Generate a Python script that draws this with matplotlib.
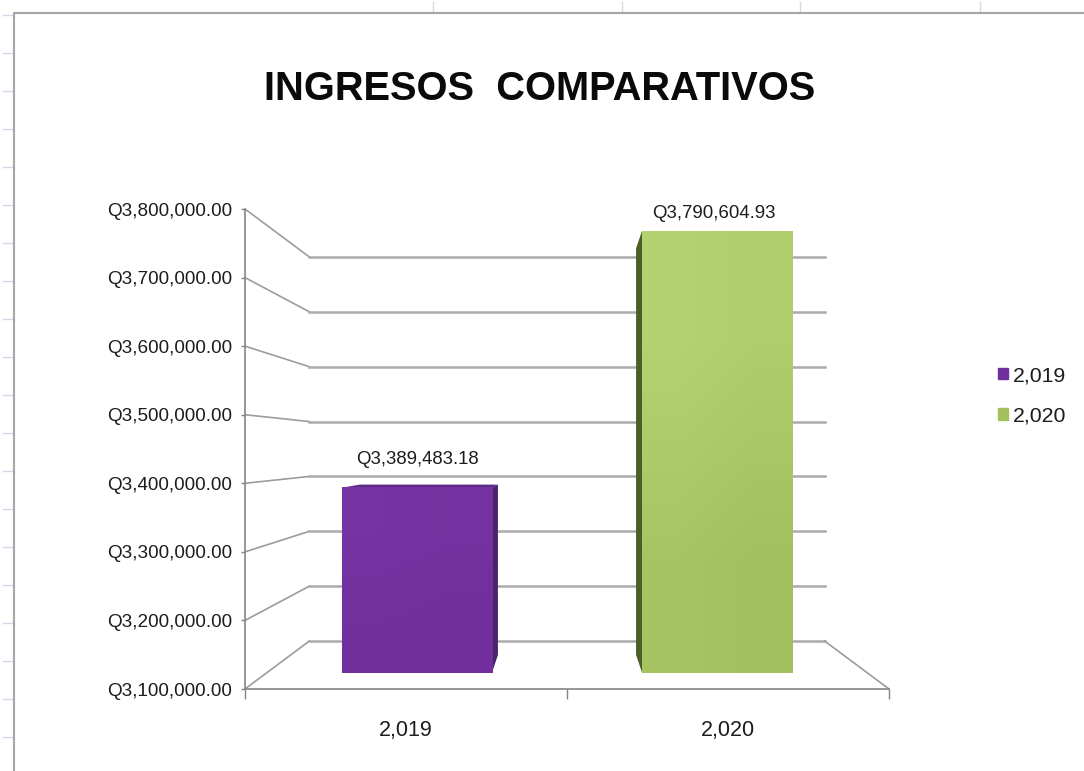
"""Recreate the INGRESOS COMPARATIVOS 3D-look column chart."""

from __future__ import annotations

import matplotlib

matplotlib.use("Agg")

import matplotlib.pyplot as plt
import numpy as np
from matplotlib.colors import LinearSegmentedColormap
from matplotlib.patches import Patch

TITLE = "INGRESOS  COMPARATIVOS"
CATEGORIES = ["2,019", "2,020"]
VALUES = [3389483.18, 3790604.93]
VALUE_LABELS = ["Q3,389,483.18", "Q3,790,604.93"]
Y_TICKS = [3100000, 3200000, 3300000, 3400000, 3500000, 3600000, 3700000, 3800000]
Y_TICK_LABELS = [
    "Q3,100,000.00",
    "Q3,200,000.00",
    "Q3,300,000.00",
    "Q3,400,000.00",
    "Q3,500,000.00",
    "Q3,600,000.00",
    "Q3,700,000.00",
    "Q3,800,000.00",
]

FACE_COLORS = [("#7633A3", "#702F9D"), ("#B4D270", "#A3C05E")]
SIDE_COLORS = ["#4A2468", "#4C5E26"]
TOP_COLORS = ["#5E2A86", "#8FAA50"]
LABEL_OFFSETS_PX = [(0, 28), (-3, 18)]

W, H = 1084, 771
BASE = Y_TICKS[0]
SHRINK = 0.2
LIFT = 70000
BAR_LEFT = 0.25
BAR_WIDTH = 0.5
BAR_NEAR = 0.34
BAR_FAR = 0.71

GRID = "#ABABAB"
SIDE_GRID = "#9C9C9C"
AXIS = "#858585"
TEXT = "#1c1c1c"
PX = 0.72  # points per pixel at dpi 100

plt.rcParams["font.family"] = ["Liberation Sans", "DejaVu Sans"]


def project(x: float, value: float, depth: float) -> tuple[float, float]:
    """Map a point of the fake 3D box on the front plane of the axes."""
    scale = 1 - SHRINK * depth
    return 1 + (x - 1) * scale, BASE + (value - BASE) * scale + LIFT * depth


def draw_sheet(fig: plt.Figure) -> None:
    """Spreadsheet frame and cell ticks behind the chart."""
    bg = fig.add_axes([0, 0, 1, 1], zorder=0)
    bg.set_xlim(0, W)
    bg.set_ylim(H, 0)
    bg.axis("off")
    for y in range(15, 740, 38):
        bg.plot([3, 14], [y, y], color="#D3D9E6", lw=1.0)
    for x in [433, 622, 800, 980]:
        bg.plot([x, x], [2, 13], color="#D3D9E6", lw=1.0)
    bg.plot([14, 14, W], [H, 13, 13], color="#A6A6A6", lw=1.5)


def draw_bar(ax: plt.Axes, i: int) -> None:
    x0 = i + BAR_LEFT
    x1 = x0 + BAR_WIDTH
    value = VALUES[i]
    side_x = x1 if i == 0 else x0

    # top, then side, then the front face over them
    top = [
        project(x0, value, BAR_NEAR),
        project(x1, value, BAR_NEAR),
        project(x1, value, BAR_FAR),
        project(x0, value, BAR_FAR),
    ]
    ax.fill(*zip(*top), color=TOP_COLORS[i], lw=0, zorder=3)
    side = [
        project(side_x, BASE, BAR_NEAR),
        project(side_x, value, BAR_NEAR),
        project(side_x, value, BAR_FAR),
        project(side_x, BASE, BAR_FAR),
    ]
    ax.fill(*zip(*side), color=SIDE_COLORS[i], lw=0, zorder=3)

    left, bottom = project(x0, BASE, BAR_NEAR)
    right, upper = project(x1, value, BAR_NEAR)
    cmap = LinearSegmentedColormap.from_list("face", FACE_COLORS[i])
    ax.imshow(
        np.array([[0.0, 0.25], [0.75, 1.0]]),
        extent=(left, right, bottom, upper),
        origin="upper",
        aspect="auto",
        cmap=cmap,
        vmin=0,
        vmax=1,
        interpolation="bilinear",
        zorder=4,
    )
    dx, dy = LABEL_OFFSETS_PX[i]
    ax.annotate(
        VALUE_LABELS[i],
        xy=((left + right) / 2, upper),
        xytext=(dx * PX, dy * PX),
        textcoords="offset points",
        ha="center",
        va="center",
        fontsize=13.4,
        color=TEXT,
        zorder=6,
    )


def main() -> None:
    fig = plt.figure(figsize=(W / 100, H / 100), dpi=100, facecolor="white")
    draw_sheet(fig)

    ax = fig.add_axes([245 / W, 1 - 689 / H, 644 / W, 480 / H], zorder=1)
    ax.patch.set_alpha(0)

    # back wall lines with their run along the left side
    for tick in Y_TICKS:
        xs, ys = zip(project(0, tick, 0), project(0, tick, 1))
        ax.plot(xs, ys, color=SIDE_GRID, lw=1.2, zorder=1)
        xs, ys = zip(project(0, tick, 1), project(2, tick, 1))
        ax.plot(xs, ys, color=GRID, lw=1.8, zorder=1)
    xs, ys = zip(project(2, BASE, 1), project(2, BASE, 0))
    ax.plot(xs, ys, color=SIDE_GRID, lw=1.2, clip_on=False, zorder=1)

    for i in range(len(CATEGORIES)):
        draw_bar(ax, i)

    ax.set_xlim(0, 2)
    ax.set_ylim(Y_TICKS[0], Y_TICKS[-1])
    ax.set_yticks(Y_TICKS)
    ax.set_yticklabels(Y_TICK_LABELS, fontsize=13.6, color=TEXT)
    ax.tick_params(axis="y", length=3, width=1, color=AXIS, pad=6)
    ax.set_xticks([0, 1, 2])
    ax.set_xticklabels([])
    ax.tick_params(axis="x", which="major", length=7, width=1, color=AXIS)
    ax.set_xticks([0.5, 1.5], minor=True)
    ax.set_xticklabels(CATEGORIES, minor=True, fontsize=15.5, color=TEXT)
    ax.tick_params(axis="x", which="minor", length=0, pad=22)
    for spine in ["top", "right"]:
        ax.spines[spine].set_visible(False)
    for spine in ["left", "bottom"]:
        ax.spines[spine].set_color(AXIS)
        ax.spines[spine].set_linewidth(1.2)

    fig.text(
        540 / W,
        1 - 89 / H,
        TITLE,
        ha="center",
        va="center",
        fontsize=28.7,
        fontweight="bold",
        color="#0a0a0a",
    )

    handles = [Patch(color=FACE_COLORS[i][1], label=CATEGORIES[i]) for i in range(len(CATEGORIES))]
    fig.legend(
        handles=handles,
        loc="center left",
        bbox_to_anchor=(998 / W, 1 - 396 / H),
        frameon=False,
        fontsize=15.3,
        borderpad=0,
        borderaxespad=0,
        handlelength=0.47,
        handleheight=0.47,
        handletextpad=0.25,
        labelspacing=1.02,
        labelcolor=TEXT,
    )

    fig.savefig("out.png", dpi=100)
    plt.close("all")


if __name__ == "__main__":
    main()
